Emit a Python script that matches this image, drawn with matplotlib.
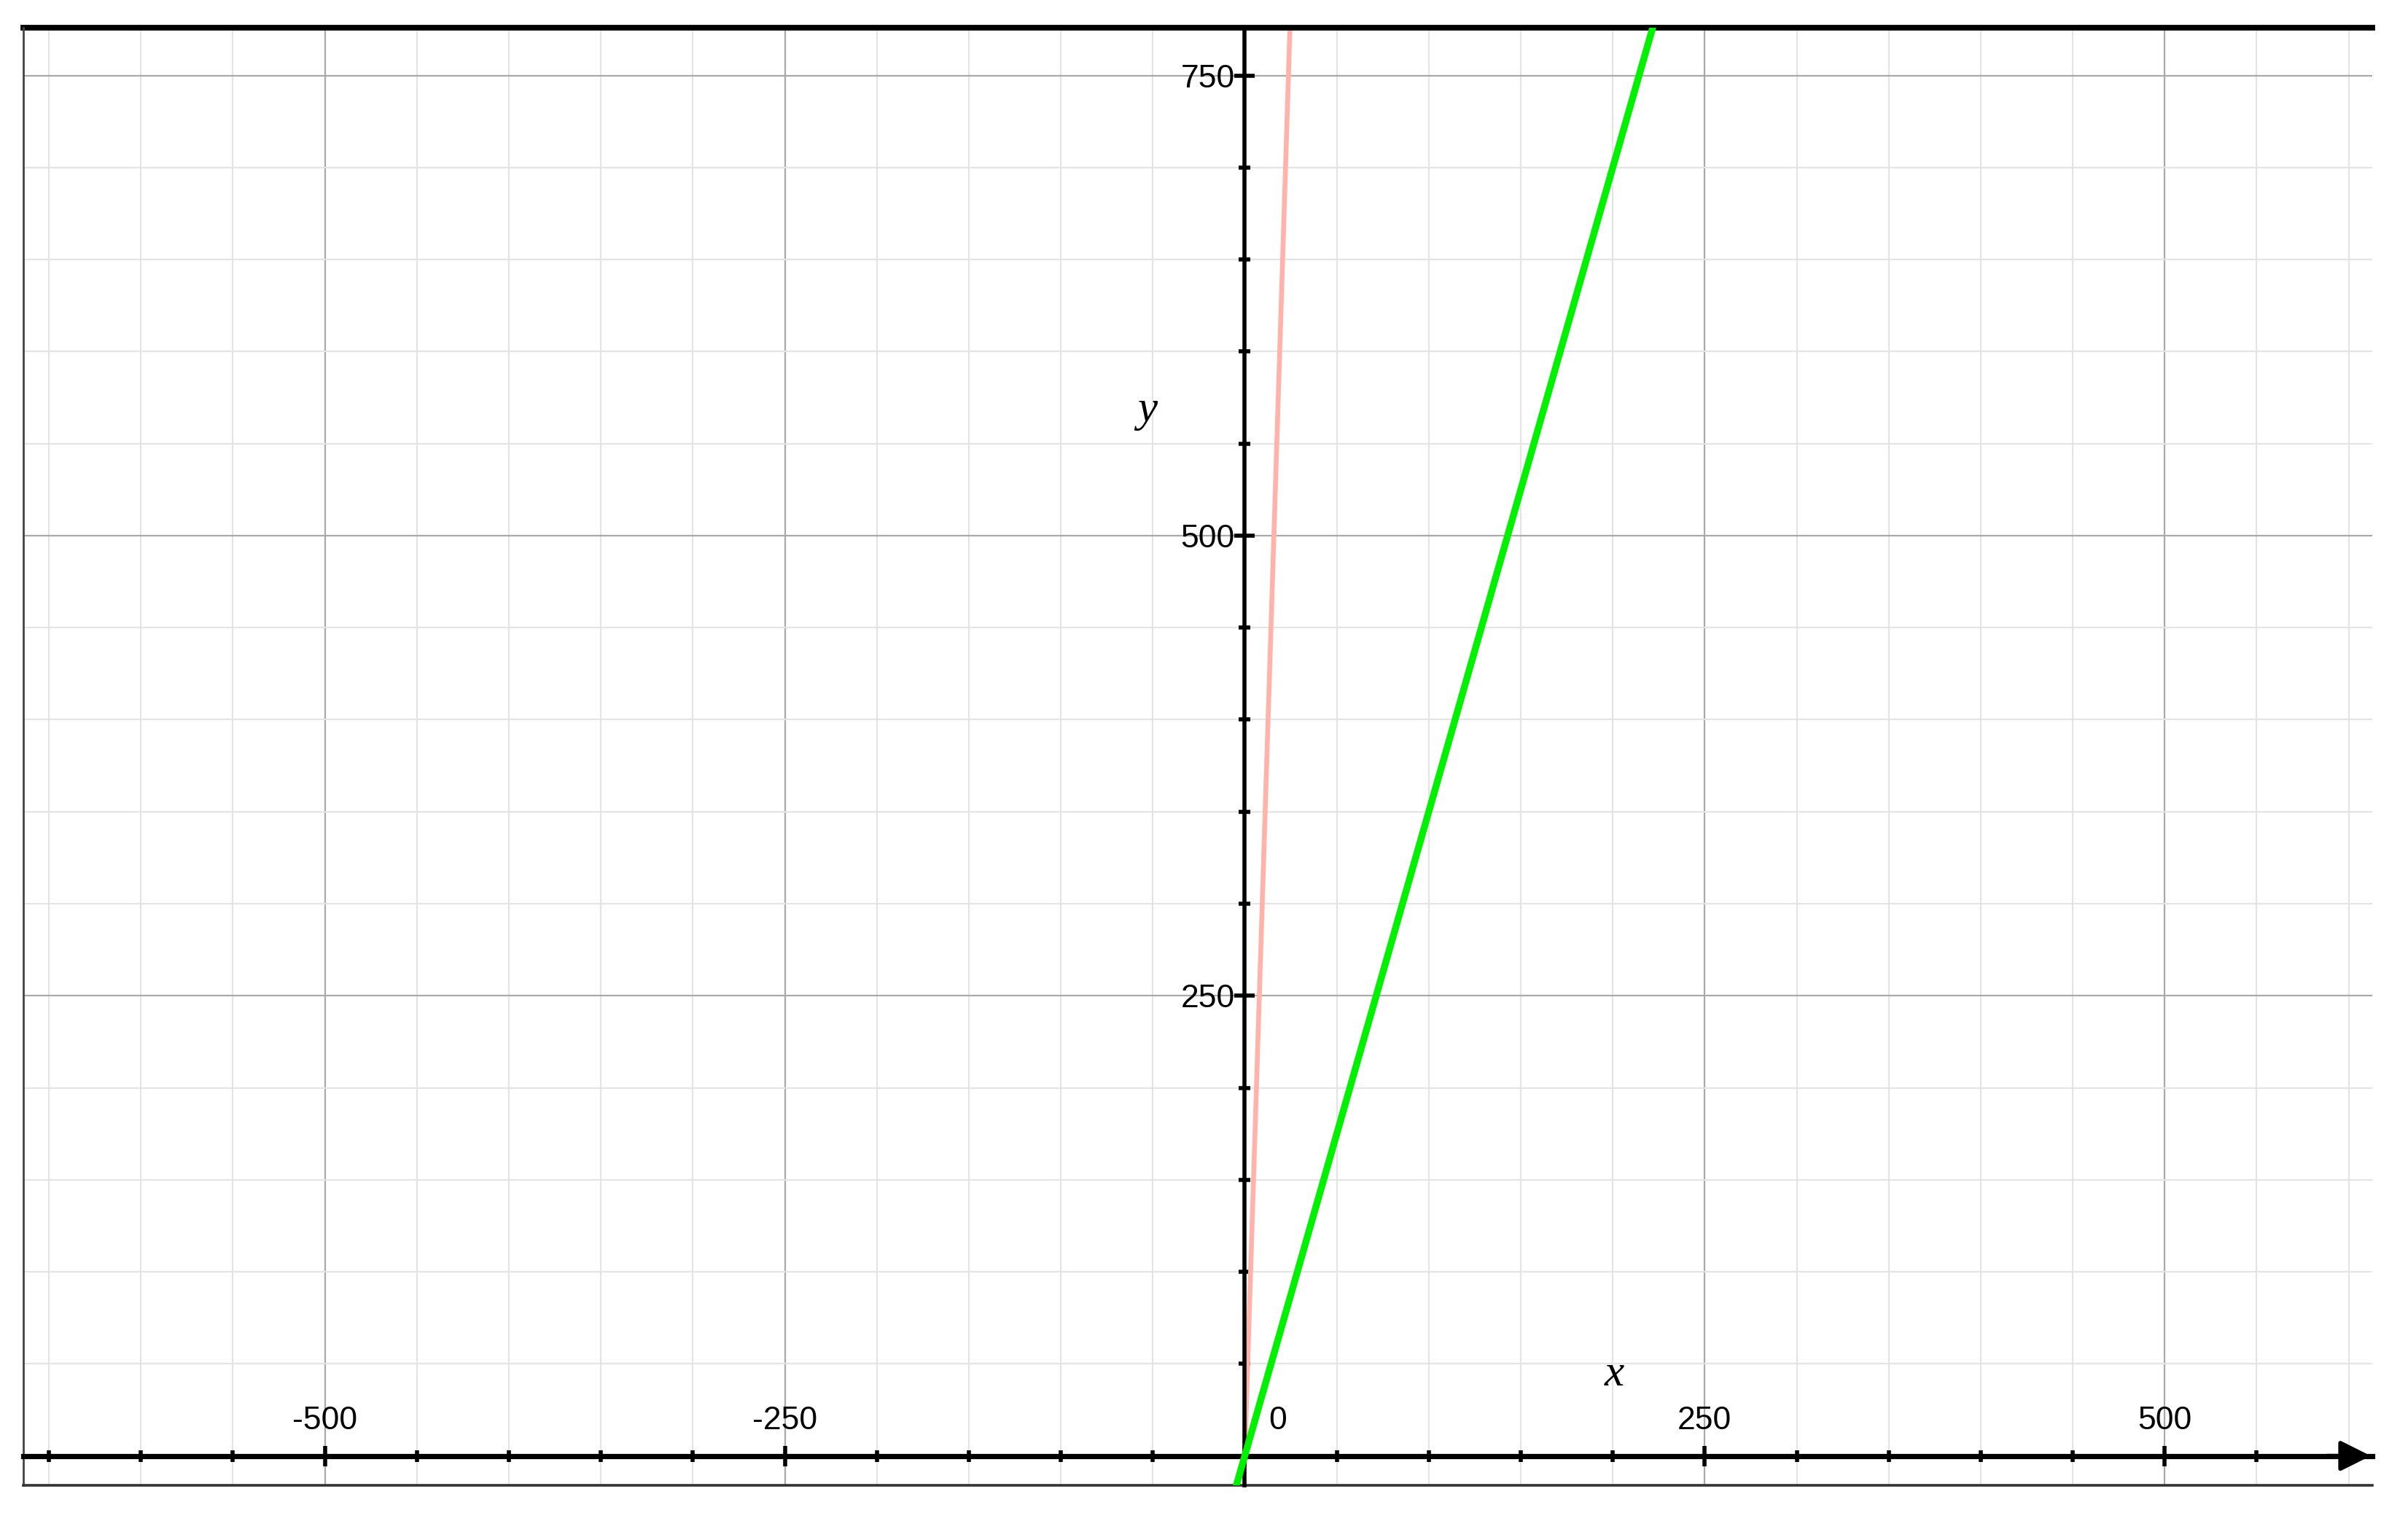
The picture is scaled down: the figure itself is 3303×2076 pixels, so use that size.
import matplotlib
matplotlib.use('Agg')
import matplotlib.pyplot as plt
from matplotlib.lines import Line2D
from matplotlib.ticker import MultipleLocator

# two straight lines through the origin, end points
pink_x = [0, 25]
pink_y = [0, 790]
green_x = [-5, 230]
green_y = [-17.5, 805]

xtick_vals = [-500, -250, 250, 500]
xtick_labels = ['-500', '-250', '250', '500']
ytick_vals = [250, 500, 750]
ytick_labels = ['250', '500', '750']

fig = plt.figure(figsize=(16.515, 10.38), dpi=200)
ax = fig.add_axes([0.0096, 0.0183, 0.9757, 0.9634])
ax.set_xlim(-664, 613)
ax.set_ylim(-16, 776)

# grid: light every 50, darker every 250
ax.xaxis.set_major_locator(MultipleLocator(250))
ax.xaxis.set_minor_locator(MultipleLocator(50))
ax.set_yticks(ytick_vals)
ax.set_yticklabels(ytick_labels)
ax.yaxis.set_minor_locator(MultipleLocator(50))
ax.set_axisbelow(True)
ax.grid(which='minor', color='#e4e4e4', lw=0.8)
ax.grid(which='major', color='#a9a9a9', lw=0.8)

# axes through the origin
for s in ['top', 'right']:
    ax.spines[s].set_visible(False)
ax.spines['left'].set_position(('data', 0))
ax.spines['bottom'].set_position(('data', 0))
ax.spines['left'].set_linewidth(2.0)
ax.spines['bottom'].set_linewidth(2.6)
ax.spines['left'].set_zorder(2.5)
ax.spines['bottom'].set_zorder(2.5)

ax.tick_params(which='major', direction='inout', length=10, width=2.0, color='k')
ax.tick_params(which='minor', direction='inout', length=6, width=2.0, color='k')
ax.tick_params(axis='x', labelbottom=False)
ax.tick_params(axis='y', labelsize=16, pad=0)
for lab in ax.get_yticklabels():
    lab.set_fontfamily('Liberation Sans')
    lab.set_verticalalignment('center_baseline')

# arrow head on the x axis
ax.annotate('', xy=(612, 0), xytext=(588, 0), annotation_clip=False,
            arrowprops=dict(arrowstyle='-|>', mutation_scale=32, color='k',
                            lw=2, shrinkA=0, shrinkB=0))

# the two lines
ax.plot(pink_x, pink_y, color='#ffb3ab', lw=2.4, zorder=2, solid_capstyle='butt')
ax.plot(green_x, green_y, color='#00f000', lw=3.4, zorder=3, solid_capstyle='butt')

# tick labels above the x axis, origin label, axis names
for v, t in zip(xtick_vals, xtick_labels):
    ax.text(v, 19, t, ha='center', va='center', fontsize=16,
            family='Liberation Sans')
ax.text(18, 19, '0', ha='center', va='center', fontsize=16,
        family='Liberation Sans')
ax.text(201, 44, 'x', ha='center', va='center', fontsize=22,
        family='Liberation Serif', style='italic')
ax.text(-53, 568, 'y', ha='center', va='center', fontsize=22,
        family='Liberation Serif', style='italic')

# outer frame: thick top, thin left and bottom
ax.add_line(Line2D([0, 1], [1, 1], transform=ax.transAxes, color='k', lw=2.8, clip_on=False))
ax.add_line(Line2D([0, 0], [0, 1], transform=ax.transAxes, color='#444444', lw=1.0, clip_on=False))
ax.add_line(Line2D([0, 1], [0, 0], transform=ax.transAxes, color='#333333', lw=1.3, clip_on=False))

fig.savefig('out.png', dpi=200)
